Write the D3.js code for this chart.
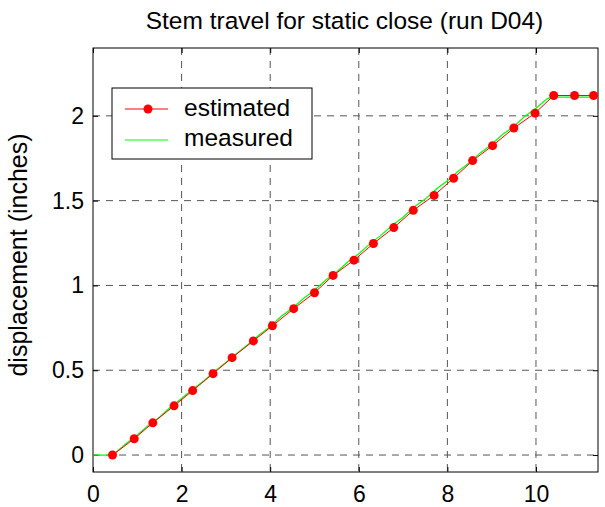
<!DOCTYPE html>
<html>
<head>
<meta charset="utf-8">
<script src="https://cdn.jsdelivr.net/npm/d3@7"></script>
<style>
  body { margin: 0; background: #fff; }
  text { font-family: "Liberation Sans", Arial, sans-serif; fill: #000; }
</style>
</head>
<body>
<script>
// estimated stem travel (red, with markers)
var estX = [0.44, 0.93, 1.35, 1.83, 2.25, 2.71, 3.14, 3.62, 4.05, 4.53, 5.00, 5.42, 5.89,
            6.33, 6.79, 7.23, 7.70, 8.14, 8.57, 9.02, 9.50, 9.98, 10.40, 10.87, 11.30];
var estY = [0.00, 0.096, 0.19, 0.29, 0.38, 0.48, 0.574, 0.673, 0.762, 0.863, 0.957, 1.059, 1.149,
            1.247, 1.341, 1.443, 1.531, 1.632, 1.736, 1.824, 1.928, 2.016, 2.12, 2.12, 2.12];

// measured stem travel (green)
var measX = [0, 0.25, 0.45, 0.5, 0.75, 1.0, 1.25, 1.5, 1.75, 2.0, 2.25, 2.5, 2.75, 3.0, 3.25,
             3.5, 3.75, 4.0, 4.25, 4.5, 4.75, 5.0, 5.25, 5.5, 5.75, 6.0, 6.25, 6.5, 6.75,
             7.0, 7.25, 7.5, 7.75, 8.0, 8.25, 8.5, 8.75, 9.0, 9.25, 9.5, 9.75, 10.0, 10.25,
             10.35, 10.6, 11.3];
var measY = [0, 0, 0, 0.012, 0.068, 0.118, 0.175, 0.223, 0.283, 0.333, 0.388, 0.437, 0.495,
             0.546, 0.601, 0.652, 0.708, 0.757, 0.818, 0.865, 0.923, 0.972, 1.031, 1.079,
             1.138, 1.187, 1.245, 1.295, 1.353, 1.402, 1.463, 1.509, 1.569, 1.617, 1.675,
             1.724, 1.783, 1.831, 1.891, 1.937, 1.998, 2.045, 2.1, 2.11, 2.11, 2.11];

var xTicks = [0, 2, 4, 6, 8, 10];
var yTicks = [0, 0.5, 1, 1.5, 2];

var margin = {top: 48, right: 7, bottom: 35, left: 93},
    width = 605 - margin.left - margin.right,
    height = 507 - margin.top - margin.bottom;

var x = d3.scaleLinear().domain([0, 11.4]).range([0, width]);
var y = d3.scaleLinear().domain([-0.1, 2.4]).range([height, 0]);

var svg = d3.select("body").append("svg")
    .attr("width", 605)
    .attr("height", 507)
  .append("g")
    .attr("transform", "translate(" + margin.left + "," + margin.top + ")");

// title
svg.append("text")
    .attr("x", width / 2 - 1)
    .attr("y", -19)
    .attr("text-anchor", "middle")
    .style("font-size", "24.5px")
    .text("Stem travel for static close (run D04)");

// grid
svg.append("g").selectAll("line")
    .data(xTicks.slice(1))
  .enter().append("line")
    .attr("x1", d => x(d)).attr("x2", d => x(d))
    .attr("y1", 0).attr("y2", height)
    .attr("stroke", "#555").attr("stroke-dasharray", "7,6");
svg.append("g").selectAll("line")
    .data(yTicks)
  .enter().append("line")
    .attr("x1", 0).attr("x2", width)
    .attr("y1", d => y(d)).attr("y2", d => y(d))
    .attr("stroke", "#555").attr("stroke-dasharray", "7,6");

// axes (ticks inward, on all four sides)
svg.append("g")
    .attr("transform", "translate(0," + height + ")")
    .call(d3.axisBottom(x).tickValues(xTicks).tickFormat(String).tickSize(-5).tickPadding(14).tickSizeOuter(0));
svg.append("g")
    .call(d3.axisLeft(y).tickValues(yTicks).tickFormat(String).tickSize(-5).tickPadding(9).tickSizeOuter(0));
svg.append("g")
    .call(d3.axisTop(x).tickValues(xTicks).tickSize(-5).tickFormat("").tickSizeOuter(0));
svg.append("g")
    .attr("transform", "translate(" + width + ",0)")
    .call(d3.axisRight(y).tickValues(yTicks).tickSize(-5).tickFormat("").tickSizeOuter(0));
svg.selectAll(".domain").remove();
svg.selectAll(".tick text").style("font-size", "23px").style("font-family", "Liberation Sans, Arial, sans-serif");
svg.selectAll(".tick line").attr("stroke", "#000");

// frame
svg.append("rect")
    .attr("width", width).attr("height", height)
    .attr("fill", "none").attr("stroke", "#000");

// y label
svg.append("text")
    .attr("transform", "rotate(-90)")
    .attr("x", -207)
    .attr("y", -66)
    .attr("text-anchor", "middle")
    .style("font-size", "25px")
    .text("displacement (inches)");

var line = d3.line().x(d => x(d[0])).y(d => y(d[1]));

// measured
svg.append("path")
    .datum(d3.zip(measX, measY))
    .attr("fill", "none")
    .attr("stroke", "#00ff00")
    .attr("stroke-width", 1.2)
    .attr("d", line);

// estimated
var est = d3.zip(estX, estY);
svg.append("path")
    .datum(est)
    .attr("fill", "none")
    .attr("stroke", "#ff0000")
    .attr("stroke-width", 1)
    .attr("d", line);
svg.selectAll(".dot")
    .data(est)
  .enter().append("circle")
    .attr("class", "dot")
    .attr("cx", d => x(d[0]))
    .attr("cy", d => y(d[1]))
    .attr("r", 4.5)
    .attr("fill", "#ff0000");

// legend
var legend = svg.append("g").attr("transform", "translate(19,40)");
legend.append("rect")
    .attr("width", 200).attr("height", 71)
    .attr("fill", "#fff").attr("stroke", "#000");
legend.append("line")
    .attr("x1", 13).attr("x2", 56).attr("y1", 21).attr("y2", 21)
    .attr("stroke", "#ff0000");
legend.append("circle")
    .attr("cx", 36).attr("cy", 21).attr("r", 4.5).attr("fill", "#ff0000");
legend.append("line")
    .attr("x1", 13).attr("x2", 56).attr("y1", 52).attr("y2", 52)
    .attr("stroke", "#00ff00");
legend.append("text")
    .attr("x", 72).attr("y", 27.5)
    .style("font-size", "24.5px")
    .text("estimated");
legend.append("text")
    .attr("x", 72).attr("y", 58)
    .style("font-size", "24.5px")
    .text("measured");
</script>
</body>
</html>
